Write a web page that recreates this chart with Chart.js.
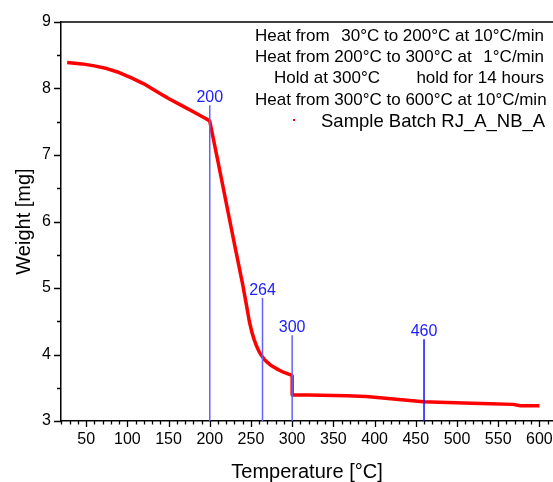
<!DOCTYPE html>
<html>
<head>
<meta charset="utf-8">
<script src="https://cdn.jsdelivr.net/npm/chart.js@4.4.0/dist/chart.umd.min.js"></script>
<style>
  body { margin: 0; background: #fff; }
  canvas { display: block; }
</style>
</head>
<body>
<canvas id="tga" width="553" height="482"></canvas>
<script>
// TGA curve
const temps = [27, 45, 60, 75, 90, 105, 120, 135, 150, 165, 180, 195, 200, 210, 220, 230, 240, 244, 248, 251, 254, 257, 260, 263, 266, 270, 275, 282, 290, 299, 300, 300, 320, 366, 390, 423, 459, 508, 540, 568, 577, 600];
const weights = [8.39, 8.37, 8.34, 8.30, 8.24, 8.16, 8.07, 7.96, 7.85, 7.75, 7.65, 7.55, 7.51, 6.90, 6.28, 5.66, 5.05, 4.78, 4.50, 4.34, 4.22, 4.12, 4.04, 3.98, 3.93, 3.88, 3.83, 3.78, 3.73, 3.69, 3.68, 3.39, 3.39, 3.38, 3.37, 3.33, 3.29, 3.27, 3.26, 3.25, 3.23, 3.23];

// vertical marker lines
const markerTemps = [200, 264, 300, 460];
const markerTops = [7.75, 4.85, 4.29, 4.23];
const markerColors = ['#6262ff', '#6262ff', '#6262ff', '#1010ff'];

const legendLines = [
    ['Heat from', '30°C to 200°C at 10°C/min'],
    ['Heat from 200°C to 300°C at', '1°C/min'],
    ['Hold at 300°C', 'hold for 14 hours'],
    ['Heat from 300°C to 600°C at 10°C/min', '']
];
const seriesName = 'Sample Batch RJ_A_NB_A';

Chart.defaults.font.family = '"Liberation Sans", Arial, sans-serif';
Chart.defaults.color = '#000';

const curve = temps.map((t, i) => ({ x: t, y: weights[i] }));

const datasets = markerTemps.map((t, i) => ({
    label: 'm' + t,
    data: [{ x: t, y: 3 }, { x: t, y: markerTops[i] }],
    borderColor: markerColors[i],
    borderWidth: 1.5,
    pointRadius: 0,
    showLine: true,
    order: 0
}));
datasets.push({
    label: seriesName,
    data: curve,
    borderColor: '#ff0000',
    backgroundColor: '#ff0000',
    borderWidth: 3.5,
    borderJoinStyle: 'round',
    pointRadius: 0,
    showLine: true,
    tension: 0,
    order: 1
});

const extras = {
    id: 'extras',
    afterDraw(chart) {
        const ctx = chart.ctx;
        const area = chart.chartArea;
        const xs = chart.scales.x;
        const ys = chart.scales.y;
        ctx.save();

        // top frame line
        ctx.strokeStyle = '#000';
        ctx.lineWidth = 1.5;
        ctx.beginPath();
        ctx.moveTo(area.left, area.top);
        ctx.lineTo(area.right, area.top);
        ctx.stroke();

        // tick marks, major and minor
        ctx.lineWidth = 1.3;
        ctx.beginPath();
        xs.ticks.forEach(tk => {
            const px = Math.round(xs.getPixelForValue(tk.value)) + 0.5;
            const len = tk.value % 50 === 0 ? 6 : 3.5;
            ctx.moveTo(px, area.bottom);
            ctx.lineTo(px, area.bottom + len);
        });
        ys.ticks.forEach(tk => {
            const py = Math.round(ys.getPixelForValue(tk.value)) + 0.5;
            const len = Number.isInteger(tk.value) ? 7 : 4;
            ctx.moveTo(area.left, py);
            ctx.lineTo(area.left - len, py);
        });
        ctx.stroke();

        // marker labels
        ctx.fillStyle = '#2020ff';
        ctx.font = '16px "Liberation Sans", Arial, sans-serif';
        ctx.textAlign = 'center';
        ctx.textBaseline = 'alphabetic';
        markerTemps.forEach((t, i) => {
            ctx.fillText(String(t), xs.getPixelForValue(t), ys.getPixelForValue(markerTops[i]) - 3);
        });

        // legend box text
        ctx.fillStyle = '#000';
        ctx.font = '17px "Liberation Sans", Arial, sans-serif';
        const baselines = [41, 62, 83, 105];
        legendLines.forEach((ln, i) => {
            ctx.textAlign = 'left';
            ctx.fillText(ln[0], i === 2 ? 274 : 255, baselines[i]);
            if (ln[1]) {
                ctx.textAlign = 'right';
                ctx.fillText(ln[1], 544, baselines[i]);
            }
        });
        ctx.fillStyle = '#ff0000';
        ctx.fillRect(293, 119, 2, 2);
        ctx.fillStyle = '#000';
        ctx.textAlign = 'left';
        ctx.font = '18.5px "Liberation Sans", Arial, sans-serif';
        ctx.fillText(seriesName, 321, 127);
        ctx.restore();
    }
};

new Chart(document.getElementById('tga'), {
    type: 'scatter',
    data: { datasets: datasets },
    options: {
        responsive: false,
        animation: false,
        devicePixelRatio: 1,
        layout: { padding: { top: 22, right: 0, left: 0, bottom: 0 } },
        plugins: {
            legend: { display: false },
            tooltip: { enabled: false }
        },
        scales: {
            x: {
                type: 'linear',
                position: 'bottom',
                min: 19.5,
                max: 616.5,
                afterFit: s => { s.height = 61; },
                ticks: {
                    stepSize: 10,
                    autoSkip: false,
                    maxRotation: 0,
                    includeBounds: false,
                    font: { size: 16 },
                    callback: v => (v % 50 === 0 ? v : '')
                },
                grid: { drawOnChartArea: false, tickLength: 6, tickColor: 'rgba(0,0,0,0)' },
                border: { color: '#000', width: 1.5 },
                title: { display: true, text: 'Temperature [°C]', font: { size: 20 }, padding: { top: 0, bottom: -2 } }
            },
            y: {
                min: 3,
                max: 9,
                afterFit: s => { s.width = 61; },
                ticks: {
                    stepSize: 0.5,
                    autoSkip: false,
                    includeBounds: false,
                    font: { size: 16 },
                    callback: v => (Number.isInteger(v) ? v : '')
                },
                grid: { drawOnChartArea: false, tickLength: 7, tickColor: 'rgba(0,0,0,0)' },
                border: { color: '#000', width: 1.5 },
                title: { display: true, text: 'Weight [mg]', font: { size: 20 }, padding: { top: 12, bottom: 0 } }
            }
        }
    },
    plugins: [extras]
});
</script>
</body>
</html>
